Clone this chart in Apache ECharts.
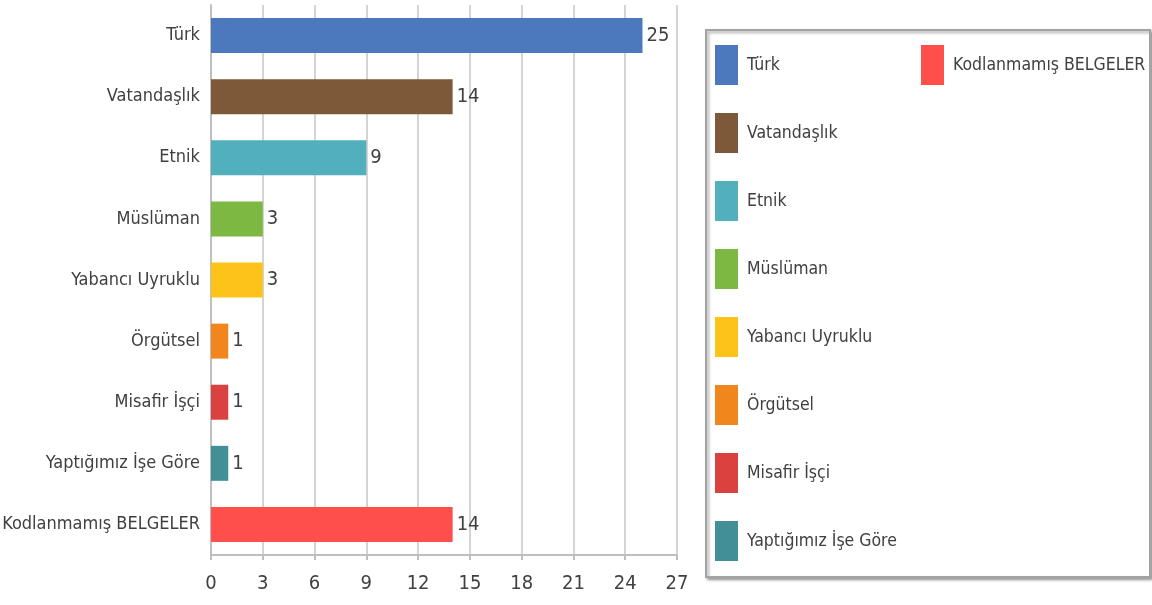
<!DOCTYPE html>
<html lang="tr">
<head>
    <meta charset="UTF-8" />
    <title>Kategoriler</title>
    <script src="https://cdn.jsdelivr.net/npm/echarts@6/dist/echarts.min.js"></script>
    <style>
        body { margin: 0; background: #fff; }
        #chart { width: 1152px; height: 605px; }
    </style>
</head>
<body>
    <div id="chart"></div>
    <script>
        const categories = ['Türk', 'Vatandaşlık', 'Etnik', 'Müslüman', 'Yabancı Uyruklu',
            'Örgütsel', 'Misafir İşçi', 'Yaptığımız İşe Göre', 'Kodlanmamış BELGELER'];
        const values = [25, 14, 9, 3, 3, 1, 1, 1, 14];
        const colors = ['#4c78bd', '#7d5939', '#52afbc', '#7db843', '#fdc318',
            '#f1871c', '#d9423e', '#428f97', '#ff4f4a'];
        const xTicks = [0, 3, 6, 9, 12, 15, 18, 21, 24, 27];

        const FONT = '"Liberation Sans Narrow", "DejaVu Sans Condensed", "Open Sans", sans-serif';
        const TEXT = '#404040';

        const chart = echarts.init(document.getElementById('chart'));

        // one series per category so every bar gets its own legend entry
        const series = categories.map((name, i) => ({
            name: name,
            type: 'bar',
            stack: 'all',
            barWidth: 35,
            itemStyle: { color: colors[i] },
            label: {
                show: true,
                position: 'right',
                distance: 4,
                fontFamily: FONT,
                fontSize: 20,
                color: TEXT
            },
            data: categories.map((c, j) => j === i ? values[i] : '-')
        }));

        const legendBase = {
            orient: 'vertical',
            top: 45,
            itemWidth: 23,
            itemHeight: 40,
            itemGap: 28,
            padding: 0,
            icon: 'rect',
            textStyle: { fontFamily: FONT, fontSize: 17.5, color: TEXT, padding: [0, 0, 0, 4] }
        };

        chart.setOption({
            animation: false,
            textStyle: { fontFamily: FONT },
            grid: { left: 211, top: 5, width: 466, height: 550, outerBoundsMode: 'none', containLabel: false },
            xAxis: {
                type: 'value',
                min: xTicks[0],
                max: xTicks[xTicks.length - 1],
                interval: xTicks[1] - xTicks[0],
                axisLine: { show: true, lineStyle: { color: '#bfbfbf', width: 2 } },
                axisTick: { show: true, length: 5, lineStyle: { color: '#bfbfbf', width: 2 } },
                splitLine: { show: true, lineStyle: { color: '#d4d4d4', width: 2 } },
                axisLabel: { fontFamily: FONT, fontSize: 20, color: TEXT, margin: 19 }
            },
            yAxis: {
                type: 'category',
                inverse: true,
                data: categories,
                axisLine: { show: true, lineStyle: { color: '#bfbfbf', width: 2 } },
                axisTick: { show: false },
                axisLabel: { fontFamily: FONT, fontSize: 18, color: TEXT, margin: 11 }
            },
            legend: [
                Object.assign({}, legendBase, { left: 715, data: categories.slice(0, 8) }),
                Object.assign({}, legendBase, { left: 921, data: categories.slice(8) })
            ],
            graphic: [{
                type: 'rect',
                z: 0,
                shape: { x: 706, y: 30, width: 444, height: 547 },
                style: {
                    fill: '#fff',
                    stroke: '#a3a3a3',
                    lineWidth: 2,
                    shadowBlur: 3,
                    shadowOffsetX: 2,
                    shadowOffsetY: 2,
                    shadowColor: 'rgba(0,0,0,0.35)'
                }
            }],
            series: series
        });
    </script>
</body>
</html>
